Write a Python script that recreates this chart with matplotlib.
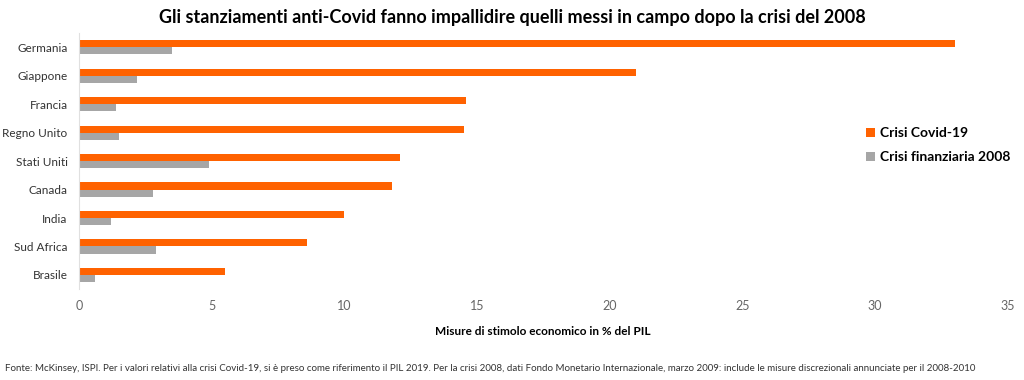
import numpy as np
import matplotlib.pyplot as plt

plt.rcParams['font.family'] = ['Lato', 'DejaVu Sans']

# Data
paesi = ['Germania', 'Giappone', 'Francia', 'Regno Unito', 'Stati Uniti',
         'Canada', 'India', 'Sud Africa', 'Brasile']
covid = [33.0, 21.0, 14.6, 14.5, 12.1, 11.8, 10.0, 8.6, 5.5]
crisi_2008 = [3.5, 2.2, 1.4, 1.5, 4.9, 2.8, 1.2, 2.9, 0.6]

orange = '#FF6200'
grey = '#A6A6A6'

fig = plt.figure(figsize=(10.24, 3.8), dpi=100)
ax = fig.add_axes([0.077, 0.239, 0.907, 0.674])

y = np.arange(len(paesi))
h = 0.25
ax.barh(y - h / 2, covid, height=h, color=orange, label='Crisi Covid-19')
ax.barh(y + h / 2, crisi_2008, height=h, color=grey, label='Crisi finanziaria 2008')

ax.set_ylim(len(paesi) - 0.5, -0.5)
ax.set_xlim(0, 35)
ax.set_xticks(range(0, 36, 5))
ax.set_yticks(y)
ax.set_yticklabels(paesi, fontsize=8.5, color='#333333')
ax.tick_params(axis='x', labelsize=9, labelcolor='#666666', length=0, pad=8)
ax.tick_params(axis='y', length=0, pad=8)

for s in ['top', 'right', 'bottom']:
    ax.spines[s].set_visible(False)
ax.spines['left'].set_color('#E0E0E0')

ax.set_xlabel('Misure di stimolo economico in % del PIL', fontsize=8.5,
              fontweight='bold', labelpad=10)

fig.text(0.5, 0.955, 'Gli stanziamenti anti-Covid fanno impallidire quelli messi in campo dopo la crisi del 2008',
         ha='center', va='center', fontsize=13, fontweight='bold')

leg = fig.legend(loc='center left', bbox_to_anchor=(0.846, 0.618), frameon=False,
                 fontsize=10, handlelength=0.6, handleheight=0.6, handletextpad=0.4,
                 labelspacing=0.85, borderpad=0, borderaxespad=0)
for t in leg.get_texts():
    t.set_fontweight('bold')

fig.text(0.005, 0.03, 'Fonte: McKinsey, ISPI. Per i valori relativi alla crisi Covid-19, si è preso come riferimento il PIL 2019. '
         'Per la crisi 2008, dati Fondo Monetario Internazionale, marzo 2009: include le misure discrezionali annunciate per il 2008-2010',
         ha='left', va='center', fontsize=7, color='#333333')

fig.savefig('out.png', dpi=100)
